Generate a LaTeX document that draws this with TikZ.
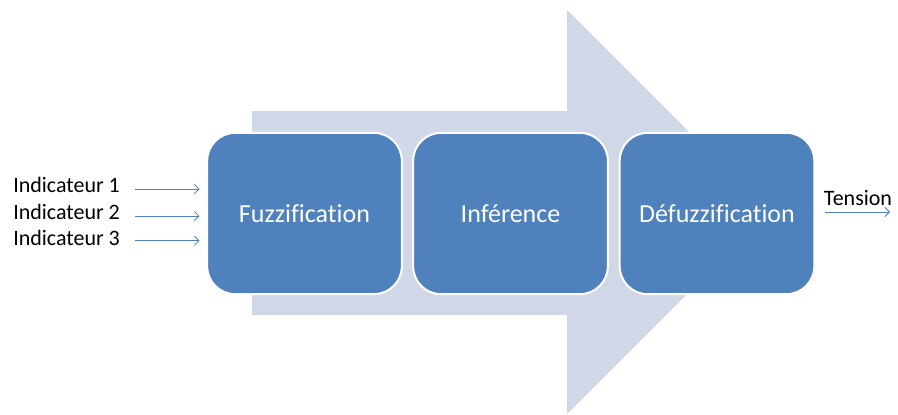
\documentclass[tikz,border=0pt]{standalone}
\usepackage{fontspec}
\setmainfont{Carlito}[Ligatures=NoCommon]
\usetikzlibrary{arrows.meta}
\definecolor{boxblue}{HTML}{4F81BD}
\definecolor{arrowbg}{HTML}{D0D8E8}
\tikzset{
  stage/.style={draw=white, line width=1.5pt, fill=boxblue, rounded corners=21pt,
    minimum width=146pt, minimum height=121pt, text=white, font=\fontsize{19.5}{22}\selectfont},
  inlabel/.style={inner sep=0pt, font=\fontsize{16.5}{18}\selectfont},
  flow/.style={draw=boxblue, line width=0.6pt, -{Straight Barb[length=3.5pt,width=7pt]}}
}
\begin{document}
\begin{tikzpicture}[x=0.75pt,y=0.75pt,yscale=-1,xscale=1]
        \useasboundingbox (0,0) rectangle (898,414);

        %Shape: Big arrow
        \fill[arrowbg] (252,111) -- (567,111) -- (567,10) -- (769,212) -- (567,414) -- (567,315) -- (252,315) -- cycle ;

        %Stages
        \node[stage] (fuzz) at (304.5,213.5) {Fuzzification};
        \node[stage] (infer) at (510.5,213.5) {Inférence};
        \node[stage] (defuzz) at (717,213.5) {Défuzzification};

        %Inputs
        \node[inlabel, anchor=west] (ind1) at (13,185) {Indicateur 1};
        \node[inlabel, anchor=west] (ind2) at (13,212) {Indicateur 2};
        \node[inlabel, anchor=west] (ind3) at (13,238) {Indicateur 3};
        \draw[flow] ([xshift=11pt,yshift=3pt]ind1.east) -- ([xshift=-5pt,yshift=3pt]ind1.east -| fuzz.west) ;
        \draw[flow] ([xshift=11pt,yshift=3pt]ind2.east) -- ([xshift=-5pt,yshift=3pt]ind2.east -| fuzz.west) ;
        \draw[flow] ([xshift=11pt,yshift=2pt]ind3.east) -- ([xshift=-5pt,yshift=2pt]ind3.east -| fuzz.west) ;

        %Output
        \coordinate (tout) at (890,212);
        \node[inlabel, anchor=south] (tension) at (858,206) {Tension};
        \draw[flow] ([xshift=7pt]defuzz.east |- tout) -- (tout) ;
\end{tikzpicture}
\end{document}
